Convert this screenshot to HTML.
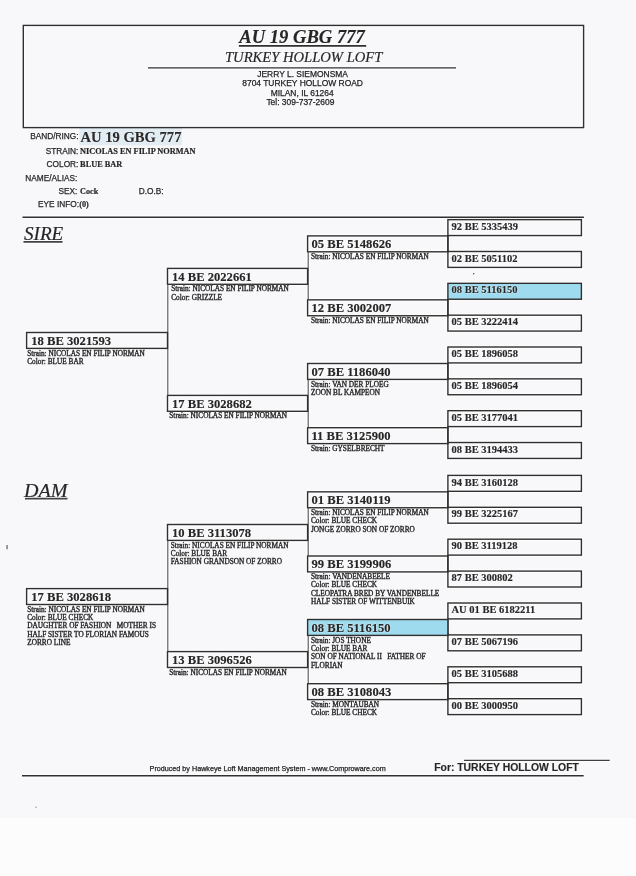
<!DOCTYPE html>
<html><head><meta charset="utf-8"><style>
html,body{margin:0;padding:0}
body{width:636px;height:876px;position:relative;overflow:hidden;background:#f8f8fb}
#low{position:absolute;left:0;top:818px;width:636px;height:58px;background:#fcfcfc}
#g{position:absolute;left:0;top:0}
#tx{position:absolute;left:0;top:0;width:636px;height:876px;will-change:transform}
#tx div{position:absolute;white-space:nowrap;text-shadow:0 0 1.2px rgba(255,255,255,0.9),0 0 1.2px rgba(255,255,255,0.9)}
</style></head><body>
<div id="low"></div>
<svg id="g" width="636" height="876" viewBox="0 0 636 876" shape-rendering="geometricPrecision">
<g opacity="0.6">
<rect x="23.30" y="25.40" width="560.30" height="102.20" stroke="#ffffff" stroke-width="4.00" fill="none"/>
<line x1="238.90" y1="45.80" x2="366.20" y2="45.80" stroke="#ffffff" stroke-width="4.30"/>
<line x1="148.00" y1="67.90" x2="456.00" y2="67.90" stroke="#ffffff" stroke-width="3.90"/>
<line x1="22.50" y1="217.20" x2="583.90" y2="217.20" stroke="#ffffff" stroke-width="4.20"/>
<line x1="23.50" y1="241.90" x2="62.50" y2="241.90" stroke="#ffffff" stroke-width="4.20"/>
<line x1="25.00" y1="498.60" x2="67.50" y2="498.60" stroke="#ffffff" stroke-width="4.20"/>
<rect x="447.90" y="219.65" width="133.50" height="15.90" stroke="#ffffff" stroke-width="4.00" fill="none"/>
<rect x="447.90" y="251.49" width="133.50" height="15.90" stroke="#ffffff" stroke-width="4.00" fill="none"/>
<rect x="447.90" y="283.33" width="133.50" height="15.90" stroke="#ffffff" stroke-width="4.00" fill="none"/>
<rect x="447.90" y="315.17" width="133.50" height="15.90" stroke="#ffffff" stroke-width="4.00" fill="none"/>
<rect x="447.90" y="347.01" width="133.50" height="15.90" stroke="#ffffff" stroke-width="4.00" fill="none"/>
<rect x="447.90" y="378.85" width="133.50" height="15.90" stroke="#ffffff" stroke-width="4.00" fill="none"/>
<rect x="447.90" y="410.69" width="133.50" height="15.90" stroke="#ffffff" stroke-width="4.00" fill="none"/>
<rect x="447.90" y="442.53" width="133.50" height="15.90" stroke="#ffffff" stroke-width="4.00" fill="none"/>
<line x1="447.90" y1="235.55" x2="447.90" y2="251.49" stroke="#ffffff" stroke-width="4.00"/>
<line x1="447.90" y1="299.23" x2="447.90" y2="315.17" stroke="#ffffff" stroke-width="4.00"/>
<line x1="447.90" y1="362.91" x2="447.90" y2="378.85" stroke="#ffffff" stroke-width="4.00"/>
<line x1="447.90" y1="426.59" x2="447.90" y2="442.53" stroke="#ffffff" stroke-width="4.00"/>
<rect x="307.60" y="235.90" width="140.30" height="15.90" stroke="#ffffff" stroke-width="4.00" fill="none"/>
<rect x="307.60" y="299.85" width="140.30" height="15.90" stroke="#ffffff" stroke-width="4.00" fill="none"/>
<rect x="307.60" y="363.50" width="140.30" height="15.90" stroke="#ffffff" stroke-width="4.00" fill="none"/>
<rect x="307.60" y="427.70" width="140.30" height="15.90" stroke="#ffffff" stroke-width="4.00" fill="none"/>
<line x1="308.20" y1="251.80" x2="308.20" y2="299.85" stroke="#ffffff" stroke-width="3.70"/>
<line x1="308.20" y1="379.40" x2="308.20" y2="427.70" stroke="#ffffff" stroke-width="3.70"/>
<rect x="167.50" y="268.40" width="140.10" height="15.90" stroke="#ffffff" stroke-width="4.00" fill="none"/>
<rect x="167.50" y="395.40" width="140.10" height="15.90" stroke="#ffffff" stroke-width="4.00" fill="none"/>
<line x1="167.80" y1="284.30" x2="167.80" y2="395.40" stroke="#ffffff" stroke-width="3.70"/>
<rect x="26.60" y="332.50" width="140.90" height="15.90" stroke="#ffffff" stroke-width="4.00" fill="none"/>
<rect x="447.90" y="475.40" width="133.50" height="15.90" stroke="#ffffff" stroke-width="4.00" fill="none"/>
<rect x="447.90" y="507.30" width="133.50" height="15.90" stroke="#ffffff" stroke-width="4.00" fill="none"/>
<rect x="447.90" y="539.20" width="133.50" height="15.90" stroke="#ffffff" stroke-width="4.00" fill="none"/>
<rect x="447.90" y="571.10" width="133.50" height="15.90" stroke="#ffffff" stroke-width="4.00" fill="none"/>
<rect x="447.90" y="603.00" width="133.50" height="15.90" stroke="#ffffff" stroke-width="4.00" fill="none"/>
<rect x="447.90" y="634.90" width="133.50" height="15.90" stroke="#ffffff" stroke-width="4.00" fill="none"/>
<rect x="447.90" y="666.80" width="133.50" height="15.90" stroke="#ffffff" stroke-width="4.00" fill="none"/>
<rect x="447.90" y="698.70" width="133.50" height="15.90" stroke="#ffffff" stroke-width="4.00" fill="none"/>
<line x1="447.90" y1="491.30" x2="447.90" y2="507.30" stroke="#ffffff" stroke-width="4.00"/>
<line x1="447.90" y1="555.10" x2="447.90" y2="571.10" stroke="#ffffff" stroke-width="4.00"/>
<line x1="447.90" y1="618.90" x2="447.90" y2="634.90" stroke="#ffffff" stroke-width="4.00"/>
<line x1="447.90" y1="682.70" x2="447.90" y2="698.70" stroke="#ffffff" stroke-width="4.00"/>
<rect x="307.60" y="491.85" width="140.30" height="15.90" stroke="#ffffff" stroke-width="4.00" fill="none"/>
<rect x="307.60" y="556.00" width="140.30" height="15.90" stroke="#ffffff" stroke-width="4.00" fill="none"/>
<rect x="307.60" y="619.50" width="140.30" height="15.90" stroke="#ffffff" stroke-width="4.00" fill="none"/>
<rect x="307.60" y="683.70" width="140.30" height="15.90" stroke="#ffffff" stroke-width="4.00" fill="none"/>
<line x1="308.20" y1="507.75" x2="308.20" y2="556.00" stroke="#ffffff" stroke-width="3.70"/>
<line x1="308.20" y1="635.40" x2="308.20" y2="683.70" stroke="#ffffff" stroke-width="3.70"/>
<rect x="167.50" y="524.50" width="140.10" height="15.90" stroke="#ffffff" stroke-width="4.00" fill="none"/>
<rect x="167.50" y="651.60" width="140.10" height="15.90" stroke="#ffffff" stroke-width="4.00" fill="none"/>
<line x1="167.80" y1="540.40" x2="167.80" y2="651.60" stroke="#ffffff" stroke-width="3.70"/>
<rect x="26.60" y="588.60" width="140.90" height="15.90" stroke="#ffffff" stroke-width="4.00" fill="none"/>
<line x1="22.00" y1="775.80" x2="583.70" y2="775.80" stroke="#ffffff" stroke-width="4.10"/>
<line x1="464.00" y1="760.30" x2="609.70" y2="760.30" stroke="#ffffff" stroke-width="3.80"/>
</g>
<rect x="35.30" y="806.60" width="1.30" height="1.30" fill="#9a9a9a"/>
<rect x="473.00" y="273.00" width="1.30" height="1.30" fill="#505050"/>
<rect x="6.20" y="545.00" width="1.70" height="4.20" fill="#8a8a8a"/>
<rect x="79.40" y="128.00" width="102.60" height="17.30" fill="#e2ecf3"/>
<rect x="23.30" y="25.40" width="560.30" height="102.20" stroke="#303030" stroke-width="1.4" fill="none"/>
<line x1="238.90" y1="45.80" x2="366.20" y2="45.80" stroke="#303030" stroke-width="1.7"/>
<line x1="148.00" y1="67.90" x2="456.00" y2="67.90" stroke="#303030" stroke-width="1.3"/>
<line x1="22.50" y1="217.20" x2="583.90" y2="217.20" stroke="#303030" stroke-width="1.6"/>
<line x1="23.50" y1="241.90" x2="62.50" y2="241.90" stroke="#404040" stroke-width="1.6"/>
<line x1="25.00" y1="498.60" x2="67.50" y2="498.60" stroke="#404040" stroke-width="1.6"/>
<rect x="447.90" y="219.65" width="133.50" height="15.90" stroke="#303030" stroke-width="1.4" fill="none"/>
<rect x="447.90" y="251.49" width="133.50" height="15.90" stroke="#303030" stroke-width="1.4" fill="none"/>
<rect x="447.90" y="283.33" width="133.50" height="15.90" stroke="#303030" stroke-width="1.4" fill="#9edbef"/>
<rect x="447.90" y="315.17" width="133.50" height="15.90" stroke="#303030" stroke-width="1.4" fill="none"/>
<rect x="447.90" y="347.01" width="133.50" height="15.90" stroke="#303030" stroke-width="1.4" fill="none"/>
<rect x="447.90" y="378.85" width="133.50" height="15.90" stroke="#303030" stroke-width="1.4" fill="none"/>
<rect x="447.90" y="410.69" width="133.50" height="15.90" stroke="#303030" stroke-width="1.4" fill="none"/>
<rect x="447.90" y="442.53" width="133.50" height="15.90" stroke="#303030" stroke-width="1.4" fill="none"/>
<line x1="447.90" y1="235.55" x2="447.90" y2="251.49" stroke="#303030" stroke-width="1.4"/>
<line x1="447.90" y1="299.23" x2="447.90" y2="315.17" stroke="#303030" stroke-width="1.4"/>
<line x1="447.90" y1="362.91" x2="447.90" y2="378.85" stroke="#303030" stroke-width="1.4"/>
<line x1="447.90" y1="426.59" x2="447.90" y2="442.53" stroke="#303030" stroke-width="1.4"/>
<rect x="307.60" y="235.90" width="140.30" height="15.90" stroke="#303030" stroke-width="1.4" fill="none"/>
<rect x="307.60" y="299.85" width="140.30" height="15.90" stroke="#303030" stroke-width="1.4" fill="none"/>
<rect x="307.60" y="363.50" width="140.30" height="15.90" stroke="#303030" stroke-width="1.4" fill="none"/>
<rect x="307.60" y="427.70" width="140.30" height="15.90" stroke="#303030" stroke-width="1.4" fill="none"/>
<line x1="308.20" y1="251.80" x2="308.20" y2="299.85" stroke="#555" stroke-width="1.1"/>
<line x1="308.20" y1="379.40" x2="308.20" y2="427.70" stroke="#555" stroke-width="1.1"/>
<rect x="167.50" y="268.40" width="140.10" height="15.90" stroke="#303030" stroke-width="1.4" fill="none"/>
<rect x="167.50" y="395.40" width="140.10" height="15.90" stroke="#303030" stroke-width="1.4" fill="none"/>
<line x1="167.80" y1="284.30" x2="167.80" y2="395.40" stroke="#555" stroke-width="1.1"/>
<rect x="26.60" y="332.50" width="140.90" height="15.90" stroke="#303030" stroke-width="1.4" fill="none"/>
<rect x="447.90" y="475.40" width="133.50" height="15.90" stroke="#303030" stroke-width="1.4" fill="none"/>
<rect x="447.90" y="507.30" width="133.50" height="15.90" stroke="#303030" stroke-width="1.4" fill="none"/>
<rect x="447.90" y="539.20" width="133.50" height="15.90" stroke="#303030" stroke-width="1.4" fill="none"/>
<rect x="447.90" y="571.10" width="133.50" height="15.90" stroke="#303030" stroke-width="1.4" fill="none"/>
<rect x="447.90" y="603.00" width="133.50" height="15.90" stroke="#303030" stroke-width="1.4" fill="none"/>
<rect x="447.90" y="634.90" width="133.50" height="15.90" stroke="#303030" stroke-width="1.4" fill="none"/>
<rect x="447.90" y="666.80" width="133.50" height="15.90" stroke="#303030" stroke-width="1.4" fill="none"/>
<rect x="447.90" y="698.70" width="133.50" height="15.90" stroke="#303030" stroke-width="1.4" fill="none"/>
<line x1="447.90" y1="491.30" x2="447.90" y2="507.30" stroke="#303030" stroke-width="1.4"/>
<line x1="447.90" y1="555.10" x2="447.90" y2="571.10" stroke="#303030" stroke-width="1.4"/>
<line x1="447.90" y1="618.90" x2="447.90" y2="634.90" stroke="#303030" stroke-width="1.4"/>
<line x1="447.90" y1="682.70" x2="447.90" y2="698.70" stroke="#303030" stroke-width="1.4"/>
<rect x="307.60" y="491.85" width="140.30" height="15.90" stroke="#303030" stroke-width="1.4" fill="none"/>
<rect x="307.60" y="556.00" width="140.30" height="15.90" stroke="#303030" stroke-width="1.4" fill="none"/>
<rect x="307.60" y="619.50" width="140.30" height="15.90" stroke="#303030" stroke-width="1.4" fill="#9edbef"/>
<rect x="307.60" y="683.70" width="140.30" height="15.90" stroke="#303030" stroke-width="1.4" fill="none"/>
<line x1="308.20" y1="507.75" x2="308.20" y2="556.00" stroke="#555" stroke-width="1.1"/>
<line x1="308.20" y1="635.40" x2="308.20" y2="683.70" stroke="#555" stroke-width="1.1"/>
<rect x="167.50" y="524.50" width="140.10" height="15.90" stroke="#303030" stroke-width="1.4" fill="none"/>
<rect x="167.50" y="651.60" width="140.10" height="15.90" stroke="#303030" stroke-width="1.4" fill="none"/>
<line x1="167.80" y1="540.40" x2="167.80" y2="651.60" stroke="#555" stroke-width="1.1"/>
<rect x="26.60" y="588.60" width="140.90" height="15.90" stroke="#303030" stroke-width="1.4" fill="none"/>
<line x1="22.00" y1="775.80" x2="583.70" y2="775.80" stroke="#303030" stroke-width="1.5"/>
<line x1="464.00" y1="760.30" x2="609.70" y2="760.30" stroke="#404040" stroke-width="1.2"/>
</svg>
<div id="tx">
<div style="left:239.3px;top:28px;font:italic bold 18.6px/1 'Liberation Serif', serif;color:#262626;-webkit-text-stroke:0.15px #262626">AU 19 GBG 777</div>
<div style="left:225.0px;top:50px;font:italic normal 14.6px/1 'Liberation Serif', serif;color:#262626;-webkit-text-stroke:0.2px #262626">TURKEY HOLLOW LOFT</div>
<div style="left:2.6px;width:600px;text-align:center;top:70px;font:normal normal 8.45px/1 'Liberation Sans', sans-serif;color:#1e1e1e;-webkit-text-stroke:0.25px #1e1e1e">JERRY L. SIEMONSMA</div>
<div style="left:2.6px;width:600px;text-align:center;top:79px;font:normal normal 8.45px/1 'Liberation Sans', sans-serif;color:#1e1e1e;-webkit-text-stroke:0.25px #1e1e1e">8704 TURKEY HOLLOW ROAD</div>
<div style="left:2.2px;width:600px;text-align:center;top:89px;font:normal normal 8.45px/1 'Liberation Sans', sans-serif;color:#1e1e1e;-webkit-text-stroke:0.25px #1e1e1e">MILAN, IL 61264</div>
<div style="left:0.4px;width:600px;text-align:center;top:98px;font:normal normal 8.45px/1 'Liberation Sans', sans-serif;color:#1e1e1e;-webkit-text-stroke:0.25px #1e1e1e">Tel: 309-737-2609</div>
<div style="right:557.4px;top:132px;font:normal normal 8.3px/1 'Liberation Sans', sans-serif;color:#262626;-webkit-text-stroke:0.25px #262626">BAND/RING:</div>
<div style="left:80.5px;top:130px;font:normal bold 14.6px/1 'Liberation Serif', serif;color:#2a2a2a;-webkit-text-stroke:0.15px #2a2a2a">AU 19 GBG 777</div>
<div style="right:557.6px;top:147px;font:normal normal 8.3px/1 'Liberation Sans', sans-serif;color:#262626;-webkit-text-stroke:0.25px #262626">STRAIN:</div>
<div style="left:80.1px;top:148px;font:normal bold 8.3px/1 'Liberation Serif', serif;color:#262626;-webkit-text-stroke:0.2px #262626">NICOLAS EN FILIP NORMAN</div>
<div style="right:557.6px;top:160px;font:normal normal 8.3px/1 'Liberation Sans', sans-serif;color:#262626;-webkit-text-stroke:0.25px #262626">COLOR:</div>
<div style="left:80.1px;top:161px;font:normal bold 8.3px/1 'Liberation Serif', serif;color:#262626;-webkit-text-stroke:0.2px #262626">BLUE BAR</div>
<div style="right:558.6px;top:174px;font:normal normal 8.3px/1 'Liberation Sans', sans-serif;color:#262626;-webkit-text-stroke:0.25px #262626">NAME/ALIAS:</div>
<div style="right:558.6px;top:187px;font:normal normal 8.3px/1 'Liberation Sans', sans-serif;color:#262626;-webkit-text-stroke:0.25px #262626">SEX:</div>
<div style="left:80.1px;top:188px;font:normal bold 8.2px/1 'Liberation Serif', serif;color:#262626;-webkit-text-stroke:0.2px #262626">Cock</div>
<div style="left:138.7px;top:187px;font:normal normal 8.3px/1 'Liberation Sans', sans-serif;color:#262626;-webkit-text-stroke:0.25px #262626">D.O.B:</div>
<div style="right:557.0px;top:200px;font:normal normal 8.3px/1 'Liberation Sans', sans-serif;color:#262626;-webkit-text-stroke:0.25px #262626">EYE INFO:</div>
<div style="left:79.2px;top:201px;font:normal bold 8.2px/1 'Liberation Serif', serif;color:#262626;-webkit-text-stroke:0.2px #262626">(0)</div>
<div style="left:23.5px;top:226px;font:italic normal 17.8px/1 'Liberation Serif', serif;color:#262626;transform:scaleX(1.075);transform-origin:0 0;-webkit-text-stroke:0.2px #262626">SIRE</div>
<div style="left:24.4px;top:482px;font:italic normal 18.3px/1 'Liberation Serif', serif;color:#262626;transform:scaleX(1.1);transform-origin:0 0;-webkit-text-stroke:0.2px #262626">DAM</div>
<div style="left:451.5px;top:222px;font:normal bold 10.5px/1 'Liberation Serif', serif;color:#262626;-webkit-text-stroke:0.15px #262626">92 BE 5335439</div>
<div style="left:451.5px;top:254px;font:normal bold 10.5px/1 'Liberation Serif', serif;color:#262626;-webkit-text-stroke:0.15px #262626">02 BE 5051102</div>
<div style="left:451.5px;top:285px;font:normal bold 10.5px/1 'Liberation Serif', serif;color:#262626;-webkit-text-stroke:0.15px #262626">08 BE 5116150</div>
<div style="left:451.5px;top:317px;font:normal bold 10.5px/1 'Liberation Serif', serif;color:#262626;-webkit-text-stroke:0.15px #262626">05 BE 3222414</div>
<div style="left:451.5px;top:349px;font:normal bold 10.5px/1 'Liberation Serif', serif;color:#262626;-webkit-text-stroke:0.15px #262626">05 BE 1896058</div>
<div style="left:451.5px;top:381px;font:normal bold 10.5px/1 'Liberation Serif', serif;color:#262626;-webkit-text-stroke:0.15px #262626">05 BE 1896054</div>
<div style="left:451.5px;top:413px;font:normal bold 10.5px/1 'Liberation Serif', serif;color:#262626;-webkit-text-stroke:0.15px #262626">05 BE 3177041</div>
<div style="left:451.5px;top:445px;font:normal bold 10.5px/1 'Liberation Serif', serif;color:#262626;-webkit-text-stroke:0.15px #262626">08 BE 3194433</div>
<div style="left:311.5px;top:238px;font:normal bold 12.6px/1 'Liberation Serif', serif;color:#262626;-webkit-text-stroke:0.15px #262626">05 BE 5148626</div>
<div style="left:311.0px;top:253px;font:normal normal 7.3px/1 'Liberation Serif', serif;color:#262626;-webkit-text-stroke:0.35px #262626">Strain: NICOLAS EN FILIP NORMAN</div>
<div style="left:311.5px;top:302px;font:normal bold 12.6px/1 'Liberation Serif', serif;color:#262626;-webkit-text-stroke:0.15px #262626">12 BE 3002007</div>
<div style="left:311.0px;top:317px;font:normal normal 7.3px/1 'Liberation Serif', serif;color:#262626;-webkit-text-stroke:0.35px #262626">Strain: NICOLAS EN FILIP NORMAN</div>
<div style="left:311.5px;top:366px;font:normal bold 12.6px/1 'Liberation Serif', serif;color:#262626;-webkit-text-stroke:0.15px #262626">07 BE 1186040</div>
<div style="left:311.0px;top:381px;font:normal normal 7.3px/1 'Liberation Serif', serif;color:#262626;-webkit-text-stroke:0.35px #262626">Strain: VAN DER PLOEG</div>
<div style="left:311.0px;top:389px;font:normal normal 7.3px/1 'Liberation Serif', serif;color:#262626;-webkit-text-stroke:0.35px #262626">ZOON BL KAMPEON</div>
<div style="left:311.5px;top:430px;font:normal bold 12.6px/1 'Liberation Serif', serif;color:#262626;-webkit-text-stroke:0.15px #262626">11 BE 3125900</div>
<div style="left:311.0px;top:445px;font:normal normal 7.3px/1 'Liberation Serif', serif;color:#262626;-webkit-text-stroke:0.35px #262626">Strain: GYSELBRECHT</div>
<div style="left:172.0px;top:271px;font:normal bold 12.6px/1 'Liberation Serif', serif;color:#262626;-webkit-text-stroke:0.15px #262626">14 BE 2022661</div>
<div style="left:171.2px;top:285px;font:normal normal 7.3px/1 'Liberation Serif', serif;color:#262626;-webkit-text-stroke:0.35px #262626">Strain: NICOLAS EN FILIP NORMAN</div>
<div style="left:171.2px;top:294px;font:normal normal 7.3px/1 'Liberation Serif', serif;color:#262626;-webkit-text-stroke:0.35px #262626">Color: GRIZZLE</div>
<div style="left:172.0px;top:398px;font:normal bold 12.6px/1 'Liberation Serif', serif;color:#262626;-webkit-text-stroke:0.15px #262626">17 BE 3028682</div>
<div style="left:169.3px;top:412px;font:normal normal 7.3px/1 'Liberation Serif', serif;color:#262626;-webkit-text-stroke:0.35px #262626">Strain: NICOLAS EN FILIP NORMAN</div>
<div style="left:31.3px;top:335px;font:normal bold 12.6px/1 'Liberation Serif', serif;color:#262626;-webkit-text-stroke:0.15px #262626">18 BE 3021593</div>
<div style="left:27.2px;top:350px;font:normal normal 7.3px/1 'Liberation Serif', serif;color:#262626;-webkit-text-stroke:0.35px #262626">Strain: NICOLAS EN FILIP NORMAN</div>
<div style="left:27.2px;top:358px;font:normal normal 7.3px/1 'Liberation Serif', serif;color:#262626;-webkit-text-stroke:0.35px #262626">Color: BLUE BAR</div>
<div style="left:451.5px;top:478px;font:normal bold 10.5px/1 'Liberation Serif', serif;color:#262626;-webkit-text-stroke:0.15px #262626">94 BE 3160128</div>
<div style="left:451.5px;top:509px;font:normal bold 10.5px/1 'Liberation Serif', serif;color:#262626;-webkit-text-stroke:0.15px #262626">99 BE 3225167</div>
<div style="left:451.5px;top:541px;font:normal bold 10.5px/1 'Liberation Serif', serif;color:#262626;-webkit-text-stroke:0.15px #262626">90 BE 3119128</div>
<div style="left:451.5px;top:573px;font:normal bold 10.5px/1 'Liberation Serif', serif;color:#262626;-webkit-text-stroke:0.15px #262626">87 BE 300802</div>
<div style="left:451.5px;top:605px;font:normal bold 10.5px/1 'Liberation Serif', serif;color:#262626;-webkit-text-stroke:0.15px #262626">AU 01 BE 6182211</div>
<div style="left:451.5px;top:637px;font:normal bold 10.5px/1 'Liberation Serif', serif;color:#262626;-webkit-text-stroke:0.15px #262626">07 BE 5067196</div>
<div style="left:451.5px;top:669px;font:normal bold 10.5px/1 'Liberation Serif', serif;color:#262626;-webkit-text-stroke:0.15px #262626">05 BE 3105688</div>
<div style="left:451.5px;top:701px;font:normal bold 10.5px/1 'Liberation Serif', serif;color:#262626;-webkit-text-stroke:0.15px #262626">00 BE 3000950</div>
<div style="left:311.5px;top:494px;font:normal bold 12.6px/1 'Liberation Serif', serif;color:#262626;-webkit-text-stroke:0.15px #262626">01 BE 3140119</div>
<div style="left:311.0px;top:509px;font:normal normal 7.3px/1 'Liberation Serif', serif;color:#262626;-webkit-text-stroke:0.35px #262626">Strain: NICOLAS EN FILIP NORMAN</div>
<div style="left:311.0px;top:517px;font:normal normal 7.3px/1 'Liberation Serif', serif;color:#262626;-webkit-text-stroke:0.35px #262626">Color: BLUE CHECK</div>
<div style="left:311.0px;top:526px;font:normal normal 7.3px/1 'Liberation Serif', serif;color:#262626;-webkit-text-stroke:0.35px #262626">JONGE ZORRO SON OF ZORRO</div>
<div style="left:311.5px;top:558px;font:normal bold 12.6px/1 'Liberation Serif', serif;color:#262626;-webkit-text-stroke:0.15px #262626">99 BE 3199906</div>
<div style="left:311.0px;top:573px;font:normal normal 7.3px/1 'Liberation Serif', serif;color:#262626;-webkit-text-stroke:0.35px #262626">Strain: VANDENABEELE</div>
<div style="left:311.0px;top:581px;font:normal normal 7.3px/1 'Liberation Serif', serif;color:#262626;-webkit-text-stroke:0.35px #262626">Color: BLUE CHECK</div>
<div style="left:311.0px;top:590px;font:normal normal 7.3px/1 'Liberation Serif', serif;color:#262626;-webkit-text-stroke:0.35px #262626">CLEOPATRA BRED BY VANDENBELLE</div>
<div style="left:311.0px;top:598px;font:normal normal 7.3px/1 'Liberation Serif', serif;color:#262626;-webkit-text-stroke:0.35px #262626">HALF SISTER OF WITTENBUIK</div>
<div style="left:311.5px;top:622px;font:normal bold 12.6px/1 'Liberation Serif', serif;color:#262626;-webkit-text-stroke:0.15px #262626">08 BE 5116150</div>
<div style="left:311.0px;top:637px;font:normal normal 7.3px/1 'Liberation Serif', serif;color:#262626;-webkit-text-stroke:0.35px #262626">Strain: JOS THONE</div>
<div style="left:311.0px;top:645px;font:normal normal 7.3px/1 'Liberation Serif', serif;color:#262626;-webkit-text-stroke:0.35px #262626">Color: BLUE BAR</div>
<div style="left:311.0px;top:653px;font:normal normal 7.3px/1 'Liberation Serif', serif;color:#262626;-webkit-text-stroke:0.35px #262626">SON OF NATIONAL II &nbsp; FATHER OF</div>
<div style="left:311.0px;top:662px;font:normal normal 7.3px/1 'Liberation Serif', serif;color:#262626;-webkit-text-stroke:0.35px #262626">FLORIAN</div>
<div style="left:311.5px;top:686px;font:normal bold 12.6px/1 'Liberation Serif', serif;color:#262626;-webkit-text-stroke:0.15px #262626">08 BE 3108043</div>
<div style="left:311.0px;top:701px;font:normal normal 7.3px/1 'Liberation Serif', serif;color:#262626;-webkit-text-stroke:0.35px #262626">Strain: MONTAUBAN</div>
<div style="left:311.0px;top:709px;font:normal normal 7.3px/1 'Liberation Serif', serif;color:#262626;-webkit-text-stroke:0.35px #262626">Color: BLUE CHECK</div>
<div style="left:172.0px;top:527px;font:normal bold 12.6px/1 'Liberation Serif', serif;color:#262626;-webkit-text-stroke:0.15px #262626">10 BE 3113078</div>
<div style="left:170.8px;top:542px;font:normal normal 7.3px/1 'Liberation Serif', serif;color:#262626;-webkit-text-stroke:0.35px #262626">Strain: NICOLAS EN FILIP NORMAN</div>
<div style="left:170.8px;top:550px;font:normal normal 7.3px/1 'Liberation Serif', serif;color:#262626;-webkit-text-stroke:0.35px #262626">Color: BLUE BAR</div>
<div style="left:170.8px;top:558px;font:normal normal 7.3px/1 'Liberation Serif', serif;color:#262626;-webkit-text-stroke:0.35px #262626">FASHION GRANDSON OF ZORRO</div>
<div style="left:172.0px;top:654px;font:normal bold 12.6px/1 'Liberation Serif', serif;color:#262626;-webkit-text-stroke:0.15px #262626">13 BE 3096526</div>
<div style="left:169.2px;top:669px;font:normal normal 7.3px/1 'Liberation Serif', serif;color:#262626;-webkit-text-stroke:0.35px #262626">Strain: NICOLAS EN FILIP NORMAN</div>
<div style="left:31.3px;top:591px;font:normal bold 12.6px/1 'Liberation Serif', serif;color:#262626;-webkit-text-stroke:0.15px #262626">17 BE 3028618</div>
<div style="left:27.2px;top:606px;font:normal normal 7.3px/1 'Liberation Serif', serif;color:#262626;-webkit-text-stroke:0.35px #262626">Strain: NICOLAS EN FILIP NORMAN</div>
<div style="left:27.2px;top:614px;font:normal normal 7.3px/1 'Liberation Serif', serif;color:#262626;-webkit-text-stroke:0.35px #262626">Color: BLUE CHECK</div>
<div style="left:27.2px;top:622px;font:normal normal 7.3px/1 'Liberation Serif', serif;color:#262626;-webkit-text-stroke:0.35px #262626">DAUGHTER OF FASHION &nbsp; MOTHER IS</div>
<div style="left:27.2px;top:631px;font:normal normal 7.3px/1 'Liberation Serif', serif;color:#262626;-webkit-text-stroke:0.35px #262626">HALF SISTER TO FLORIAN FAMOUS</div>
<div style="left:27.2px;top:639px;font:normal normal 7.3px/1 'Liberation Serif', serif;color:#262626;-webkit-text-stroke:0.35px #262626">ZORRO LINE</div>
<div style="left:149.6px;top:765px;font:normal normal 7.2px/1 'Liberation Sans', sans-serif;color:#1e1e1e;-webkit-text-stroke:0.25px #1e1e1e">Produced by Hawkeye Loft Management System - www.Comproware.com</div>
<div style="left:434.2px;top:763px;font:normal bold 10.4px/1 'Liberation Sans', sans-serif;color:#262626;-webkit-text-stroke:0.15px #262626">For: TURKEY HOLLOW LOFT</div>
</div>
</body></html>
